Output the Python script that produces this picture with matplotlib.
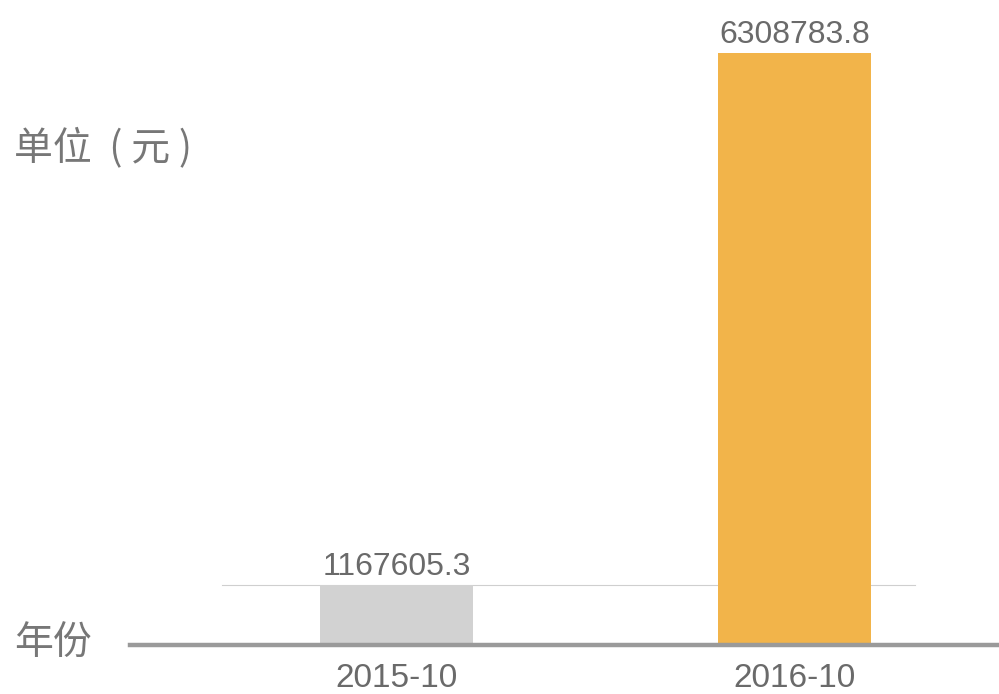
import matplotlib
matplotlib.use("Agg")
import matplotlib.pyplot as plt

# data
months = ["2015-10", "2016-10"]
amounts = [1167605.3, 6308783.8]
bar_colors = ["#d2d2d2", "#f2b44a"]
unit_label = "单位  ( 元 )"
x_label = "年份"

plt.rcParams['font.family'] = ['Liberation Sans', 'Noto Sans CJK SC', 'DejaVu Sans']

fig = plt.figure(figsize=(9.99, 6.94), dpi=100)
ax = fig.add_axes([0.130, 0.0706, 0.870, 0.853])

pos = list(range(len(months)))
bars = ax.bar(pos, amounts, width=0.384, color=bar_colors, zorder=2)

# value labels
for b, v in zip(bars, amounts):
    ax.annotate(f"{v:.1f}", (b.get_x() + b.get_width() / 2, v),
                xytext=(0, 2), textcoords="offset points",
                ha="center", va="bottom", fontsize=23, color="#6a6a6a")

# thin reference line at the first bar's level
ax.axhline(amounts[0], xmin=0.106, xmax=0.903, color="#cfcfcf", lw=0.8, zorder=1)

ax.set_xlim(-0.669, 1.512)
ax.set_ylim(588000, amounts[1])

ax.set_xticks(pos)
ax.set_xticklabels(months, fontsize=24, color="#6a6a6a")
ax.tick_params(axis="x", length=0, pad=13)
ax.set_yticks([])

for s in ["top", "right", "left"]:
    ax.spines[s].set_visible(False)
ax.spines["bottom"].set_color("#9a9a9a")
ax.spines["bottom"].set_linewidth(3.2)

fig.text(0.014, 1 - 148 / 694, unit_label, fontsize=28, color="#777777",
         family=['Noto Sans CJK SC', 'DejaVu Sans'], va="center", ha="left")
fig.text(0.014, 1 - 643 / 694, x_label, fontsize=28, color="#777777",
         family=['Noto Sans CJK SC', 'DejaVu Sans'], va="center", ha="left")

fig.savefig("out.png", dpi=100)
